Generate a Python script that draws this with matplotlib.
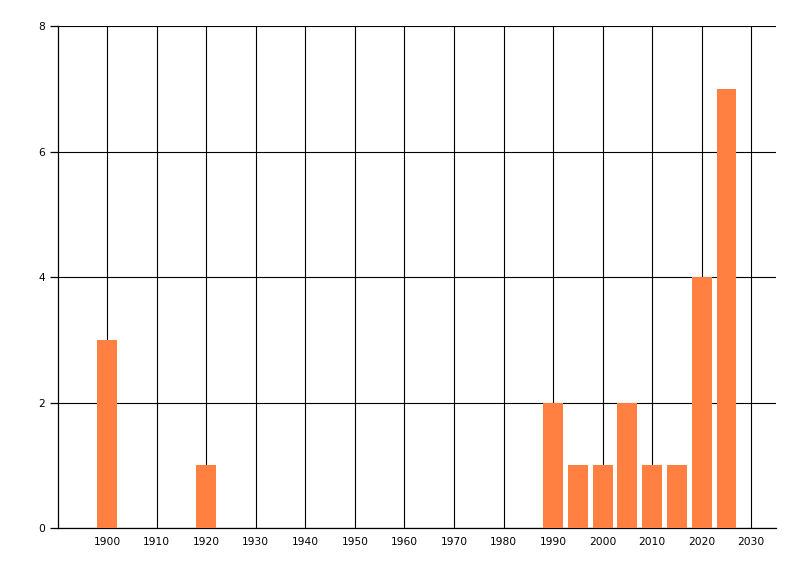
import matplotlib
matplotlib.use("Agg")
import matplotlib.pyplot as plt

years = [1900, 1920, 1990, 1995, 2000, 2005, 2010, 2015, 2020, 2025]
counts = [3, 1, 2, 1, 1, 2, 1, 1, 4, 7]
xticks = list(range(1900, 2031, 10))
yticks = [0, 2, 4, 6, 8]

fig = plt.figure(figsize=(8, 5.76), dpi=100)
ax = fig.add_axes([0.072, 0.083, 0.898, 0.871])

ax.bar(years, counts, width=4, color="#FF8040", zorder=3)

ax.set_xlim(1890, 2035)
ax.set_ylim(0, 8)
ax.set_xticks(xticks)
ax.set_yticks(yticks)
ax.grid(True, color="black", linewidth=0.8, zorder=0)
ax.set_axisbelow(True)

for side in ["top", "right"]:
    ax.spines[side].set_visible(False)
for side in ["left", "bottom"]:
    ax.spines[side].set_linewidth(0.9)

ax.tick_params(axis="x", length=0, pad=6, labelsize=7.7)
ax.tick_params(axis="y", length=6, width=0.9, pad=3, labelsize=7.7)

fig.savefig("out.png", dpi=100)
